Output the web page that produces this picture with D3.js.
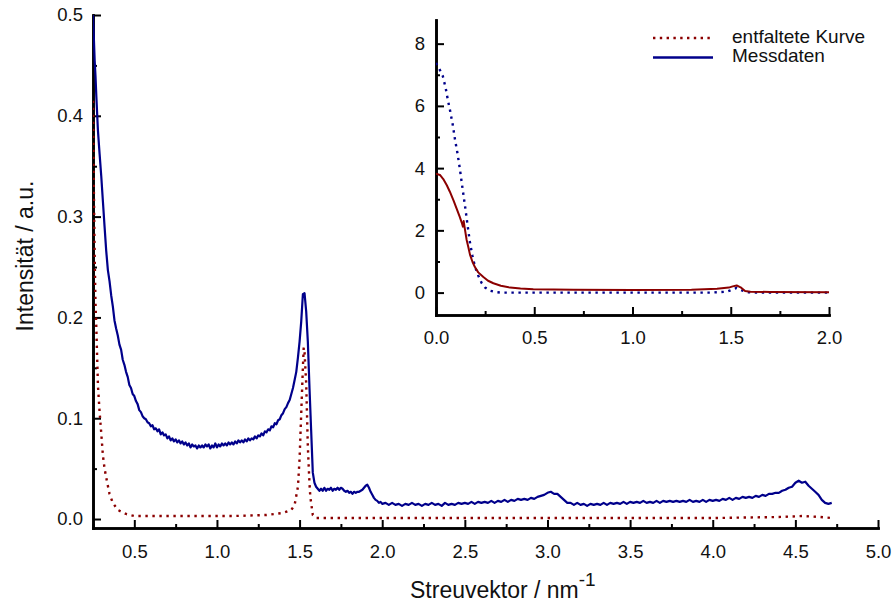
<!DOCTYPE html>
<html>
<head>
<meta charset="utf-8">
<script src="https://cdn.jsdelivr.net/npm/d3@7"></script>
<style>
  body { margin: 0; background: #fff; }
  svg { font-family: "Liberation Sans", Arial, Helvetica, sans-serif; }
  .axis .domain { stroke: #000; stroke-width: 2.6; }
  .axis line { stroke: #000; stroke-width: 2; }
  .axis text { font-size: 18.5px; fill: #111; }
</style>
</head>
<body>
<div id="chart"></div>
<script>
// Hauptdiagramm: Messdaten (blau) und entfaltete Kurve (rot, gepunktet)
var messdaten = [
  [0.25,0.500],[0.255,0.478],[0.26,0.455],[0.265,0.440],[0.27,0.420],[0.28,0.385],[0.29,0.362],
  [0.30,0.340],[0.31,0.315],[0.32,0.290],[0.33,0.266],[0.34,0.247],[0.35,0.236],[0.36,0.222],
  [0.37,0.211],[0.38,0.197],[0.39,0.189],[0.40,0.182],[0.41,0.173],[0.42,0.168],[0.43,0.158],
  [0.44,0.153],[0.45,0.146],[0.46,0.141],[0.47,0.133],[0.48,0.130],[0.49,0.124],[0.50,0.122],
  [0.51,0.117],[0.52,0.114],[0.53,0.108],[0.54,0.106],[0.55,0.102],[0.56,0.100],[0.57,0.099],
  [0.58,0.096],[0.59,0.095],[0.60,0.092],[0.61,0.093],[0.62,0.089],[0.63,0.090],[0.64,0.087],
  [0.65,0.089],[0.66,0.084],[0.67,0.086],[0.68,0.083],[0.69,0.084],[0.70,0.080],[0.71,0.082],
  [0.72,0.078],[0.73,0.080],[0.74,0.077],[0.75,0.079],[0.76,0.076],[0.77,0.078],[0.78,0.075],
  [0.79,0.077],[0.80,0.074],[0.81,0.076],[0.82,0.073],[0.83,0.075],[0.84,0.071],[0.85,0.074],
  [0.86,0.072],[0.87,0.073],[0.88,0.070],[0.89,0.073],[0.90,0.071],[0.91,0.073],[0.92,0.071],
  [0.93,0.074],[0.94,0.072],[0.95,0.074],[0.96,0.070],[0.97,0.073],[0.98,0.071],[0.99,0.075],
  [1.00,0.071],[1.01,0.074],[1.02,0.072],[1.03,0.075],[1.04,0.073],[1.05,0.075],[1.06,0.073],
  [1.07,0.076],[1.08,0.074],[1.09,0.076],[1.10,0.074],[1.11,0.077],[1.12,0.075],[1.13,0.078],
  [1.14,0.076],[1.15,0.078],[1.16,0.076],[1.17,0.079],[1.18,0.077],[1.19,0.080],[1.20,0.078],
  [1.21,0.080],[1.22,0.079],[1.23,0.082],[1.24,0.080],[1.25,0.083],[1.26,0.082],[1.27,0.085],
  [1.28,0.083],[1.29,0.087],[1.30,0.086],[1.31,0.089],[1.32,0.088],[1.33,0.092],[1.34,0.091],
  [1.35,0.095],[1.36,0.094],[1.37,0.098],[1.38,0.099],[1.39,0.103],[1.40,0.105],[1.41,0.109],
  [1.42,0.111],[1.43,0.115],[1.44,0.118],[1.45,0.124],[1.46,0.130],[1.47,0.138],[1.48,0.146],
  [1.49,0.160],[1.50,0.176],[1.51,0.196],[1.52,0.223],[1.53,0.224],[1.54,0.206],[1.55,0.176],
  [1.56,0.130],[1.57,0.088],[1.58,0.046],[1.59,0.036],[1.60,0.032],[1.61,0.030],[1.62,0.028],
  [1.63,0.030],[1.64,0.028],[1.65,0.031],[1.66,0.028],[1.67,0.030],[1.68,0.029],[1.69,0.031],
  [1.70,0.028],[1.71,0.030],[1.72,0.029],[1.73,0.031],[1.74,0.029],[1.75,0.031],[1.76,0.030],
  [1.77,0.028],[1.78,0.027],[1.79,0.028],[1.80,0.026],[1.81,0.027],[1.82,0.025],[1.83,0.027],
  [1.84,0.026],[1.85,0.027],[1.86,0.027],[1.87,0.028],[1.88,0.029],[1.89,0.031],[1.90,0.033],
  [1.91,0.034],[1.92,0.031],[1.93,0.027],[1.94,0.024],[1.95,0.021],[1.96,0.019],[1.97,0.018],
  [1.98,0.016],[1.99,0.017],[2.00,0.015],[2.02,0.016],[2.04,0.014],[2.06,0.016],[2.08,0.014],
  [2.10,0.015],[2.12,0.013],[2.14,0.015],[2.16,0.014],[2.18,0.016],[2.20,0.014],[2.22,0.015],
  [2.24,0.013],[2.26,0.015],[2.28,0.014],[2.30,0.016],[2.32,0.014],[2.34,0.015],[2.36,0.013],
  [2.38,0.016],[2.40,0.014],[2.42,0.015],[2.44,0.014],[2.46,0.016],[2.48,0.015],[2.50,0.016],
  [2.52,0.015],[2.54,0.017],[2.56,0.015],[2.58,0.017],[2.60,0.016],[2.62,0.017],[2.64,0.016],
  [2.66,0.018],[2.68,0.016],[2.70,0.018],[2.72,0.017],[2.74,0.019],[2.76,0.017],[2.78,0.019],
  [2.80,0.018],[2.82,0.020],[2.84,0.019],[2.86,0.020],[2.88,0.019],[2.90,0.021],[2.92,0.020],
  [2.94,0.022],[2.96,0.023],[2.98,0.024],[3.00,0.026],[3.02,0.027],[3.04,0.025],[3.06,0.025],
  [3.08,0.022],[3.10,0.019],[3.12,0.016],[3.14,0.016],[3.16,0.014],[3.18,0.016],[3.20,0.014],
  [3.22,0.015],[3.24,0.013],[3.26,0.015],[3.28,0.014],[3.30,0.015],[3.32,0.014],[3.34,0.016],
  [3.36,0.014],[3.38,0.016],[3.40,0.015],[3.42,0.016],[3.44,0.015],[3.46,0.017],[3.48,0.015],
  [3.50,0.017],[3.52,0.016],[3.54,0.017],[3.56,0.016],[3.58,0.018],[3.60,0.016],[3.62,0.017],
  [3.64,0.016],[3.66,0.018],[3.68,0.016],[3.70,0.018],[3.72,0.017],[3.74,0.018],[3.76,0.017],
  [3.78,0.018],[3.80,0.017],[3.82,0.018],[3.84,0.017],[3.86,0.019],[3.88,0.017],[3.90,0.018],
  [3.92,0.017],[3.94,0.019],[3.96,0.017],[3.98,0.019],[4.00,0.018],[4.02,0.019],[4.04,0.018],
  [4.06,0.020],[4.08,0.019],[4.10,0.021],[4.12,0.019],[4.14,0.021],[4.16,0.020],[4.18,0.022],
  [4.20,0.021],[4.22,0.022],[4.24,0.021],[4.26,0.023],[4.28,0.022],[4.30,0.024],[4.32,0.023],
  [4.34,0.025],[4.36,0.025],[4.38,0.026],[4.40,0.026],[4.42,0.028],[4.44,0.029],[4.46,0.031],
  [4.48,0.032],[4.50,0.036],[4.52,0.038],[4.54,0.036],[4.56,0.037],[4.58,0.033],[4.60,0.030],
  [4.62,0.027],[4.64,0.024],[4.66,0.019],[4.68,0.016],[4.70,0.015],[4.72,0.016]
];

var entfaltet = [
  [0.25,0.415],[0.255,0.330],[0.26,0.262],[0.265,0.215],[0.27,0.190],[0.28,0.132],[0.29,0.106],
  [0.30,0.085],[0.31,0.063],[0.32,0.050],[0.335,0.037],[0.35,0.025],[0.37,0.016],[0.40,0.009],
  [0.45,0.005],[0.50,0.003],[0.70,0.003],[0.90,0.003],[1.10,0.003],[1.30,0.004],[1.40,0.006],
  [1.45,0.009],[1.47,0.014],[1.49,0.032],[1.50,0.060],[1.51,0.105],[1.52,0.150],[1.525,0.170],
  [1.53,0.165],[1.54,0.135],[1.55,0.072],[1.56,0.035],[1.565,0.022],[1.58,0.004],[1.60,0.001],
  [2.00,0.001],[3.00,0.001],[4.00,0.001],[4.40,0.002],[4.55,0.003],[4.65,0.002],[4.72,0.001]
];

// Einschub: hier ist die blaue Kurve gepunktet, die rote durchgezogen
var insetBlau = [
  [0.00,7.38],[0.02,7.15],[0.035,6.95],[0.05,6.55],[0.06,6.20],[0.071,5.87],[0.085,5.40],
  [0.097,4.91],[0.11,4.45],[0.122,3.95],[0.135,3.35],[0.148,2.77],[0.16,2.20],[0.173,1.60],
  [0.185,1.20],[0.198,0.84],[0.215,0.55],[0.232,0.31],[0.25,0.16],[0.275,0.06],[0.30,0.02],
  [0.33,0.00],[0.60,0.00],[1.00,0.00],[1.40,0.00],[1.48,0.03],[1.51,0.10],[1.53,0.15],
  [1.55,0.09],[1.58,0.01],[1.65,0.00],[2.00,0.00]
];

var insetRot = [
  [0.00,3.82],[0.02,3.78],[0.037,3.65],[0.055,3.45],[0.07,3.25],[0.09,2.95],[0.105,2.70],
  [0.12,2.45],[0.131,2.25],[0.137,2.12],[0.141,2.30],[0.145,2.12],[0.156,1.69],[0.165,1.45],
  [0.173,1.22],[0.185,1.00],[0.198,0.82],[0.215,0.65],[0.241,0.50],[0.265,0.38],[0.292,0.30],
  [0.33,0.22],[0.377,0.16],[0.43,0.13],[0.495,0.11],[0.70,0.09],[1.00,0.08],[1.30,0.09],
  [1.43,0.12],[1.49,0.16],[1.51,0.20],[1.53,0.23],[1.55,0.17],[1.573,0.05],[1.60,0.03],
  [1.70,0.02],[2.00,0.01]
];

var mainXTicks = [0.5, 1.0, 1.5, 2.0, 2.5, 3.0, 3.5, 4.0, 4.5, 5.0];
var mainXMinor = [0.25, 0.75, 1.25, 1.75, 2.25, 2.75, 3.25, 3.75, 4.25, 4.75];
var mainYTicks = [0.0, 0.1, 0.2, 0.3, 0.4, 0.5];
var mainYMinor = [0.05, 0.15, 0.25, 0.35, 0.45];
var insetXTicks = [0.0, 0.5, 1.0, 1.5, 2.0];
var insetXMinor = [0.25, 0.75, 1.25, 1.75];
var insetYTicks = [0, 2, 4, 6, 8];
var insetYMinor = [1, 3, 5, 7];

var legendLabels = ["entfaltete Kurve", "Messdaten"];

var rot = "#8b0000", blau = "#00008b";
var W = 895, H = 605;

var svg = d3.select("#chart").append("svg")
  .attr("width", W)
  .attr("height", H);

// ---- Hauptachsen ----
var x = d3.scaleLinear().domain([0.25, 5.0]).range([93, 878]);
var y = d3.scaleLinear().domain([-0.0089, 0.5]).range([528, 15]);

svg.append("defs").append("clipPath").attr("id", "clipMain")
  .append("rect").attr("x", 93).attr("y", 12).attr("width", 790).attr("height", 516);
svg.select("defs").append("clipPath").attr("id", "clipInset")
  .append("rect").attr("x", 436).attr("y", 18).attr("width", 395).attr("height", 297);

function drawAxes(xs, ys, xTicks, xMinor, yTicks, yMinor, xFmt, yFmt, xPad, yPad) {
  var yBase = ys.range()[0], xBase = xs.range()[0];
  svg.append("g").attr("class", "axis")
    .attr("transform", "translate(0," + yBase + ")")
    .call(d3.axisBottom(xs).tickValues(xMinor).tickSize(-4).tickSizeOuter(0).tickFormat(""));
  svg.append("g").attr("class", "axis")
    .attr("transform", "translate(0," + yBase + ")")
    .call(d3.axisBottom(xs).tickValues(xTicks).tickSize(-8).tickSizeOuter(0)
      .tickPadding(xPad).tickFormat(xFmt));
  svg.append("g").attr("class", "axis")
    .attr("transform", "translate(" + xBase + ",0)")
    .call(d3.axisLeft(ys).tickValues(yMinor).tickSize(-4).tickSizeOuter(0).tickFormat(""));
  svg.append("g").attr("class", "axis")
    .attr("transform", "translate(" + xBase + ",0)")
    .call(d3.axisLeft(ys).tickValues(yTicks).tickSize(-8).tickSizeOuter(0)
      .tickPadding(yPad).tickFormat(yFmt));
  svg.selectAll(".axis .domain").attr("stroke-linecap", "square");
}

drawAxes(x, y, mainXTicks, mainXMinor, mainYTicks, mainYMinor,
  d3.format(".1f"), d3.format(".1f"), 17, 10);

var lineMain = d3.line()
  .x(function(d) { return x(d[0]); })
  .y(function(d) { return y(d[1]); });

svg.append("path")
  .datum(entfaltet)
  .attr("clip-path", "url(#clipMain)")
  .attr("fill", "none")
  .attr("stroke", rot)
  .attr("stroke-width", 2.4)
  .attr("stroke-dasharray", "2.4,4.6")
  .attr("d", lineMain);

svg.append("path")
  .datum(messdaten)
  .attr("clip-path", "url(#clipMain)")
  .attr("fill", "none")
  .attr("stroke", blau)
  .attr("stroke-width", 2.2)
  .attr("stroke-linejoin", "round")
  .attr("d", lineMain);

// Achsentitel
svg.append("text")
  .attr("transform", "translate(33,256) rotate(-90)")
  .attr("text-anchor", "middle")
  .style("font-size", "23px")
  .attr("fill", "#111")
  .text("Intensität / a.u.");

var xt = svg.append("text")
  .attr("x", 410)
  .attr("y", 598)
  .style("font-size", "23px")
  .attr("fill", "#111");
xt.append("tspan").text("Streuvektor / nm");
xt.append("tspan").attr("dy", -12).style("font-size", "19px").text("-1");

// ---- Einschub ----
var xi = d3.scaleLinear().domain([0, 2]).range([436, 829]);
var yi = d3.scaleLinear().domain([-0.72, 8.76]).range([315, 20]);

drawAxes(xi, yi, insetXTicks, insetXMinor, insetYTicks, insetYMinor,
  d3.format(".1f"), d3.format("d"), 16, 11);

var lineInset = d3.line()
  .x(function(d) { return xi(d[0]); })
  .y(function(d) { return yi(d[1]); });

svg.append("path")
  .datum(insetBlau)
  .attr("clip-path", "url(#clipInset)")
  .attr("fill", "none")
  .attr("stroke", blau)
  .attr("stroke-width", 2.4)
  .attr("stroke-dasharray", "2.4,4.6")
  .attr("d", lineInset);

svg.append("path")
  .datum(insetRot)
  .attr("clip-path", "url(#clipInset)")
  .attr("fill", "none")
  .attr("stroke", rot)
  .attr("stroke-width", 2)
  .attr("stroke-linejoin", "round")
  .attr("d", lineInset);

// ---- Legende ----
var leg = svg.append("g").attr("transform", "translate(653,38)");
leg.append("line")
  .attr("x1", 0).attr("x2", 57).attr("y1", 0).attr("y2", 0)
  .attr("stroke", rot).attr("stroke-width", 2.4).attr("stroke-dasharray", "2.4,4.4");
leg.append("line")
  .attr("x1", 0).attr("x2", 60).attr("y1", 19.5).attr("y2", 19.5)
  .attr("stroke", blau).attr("stroke-width", 2.4);
leg.selectAll("text.lbl")
  .data(legendLabels)
  .enter().append("text")
  .attr("class", "lbl")
  .attr("x", 79)
  .attr("y", function(d, i) { return 4.5 + i * 19.5; })
  .style("font-size", "19px")
  .attr("fill", "#111")
  .text(function(d) { return d; });
</script>
</body>
</html>
